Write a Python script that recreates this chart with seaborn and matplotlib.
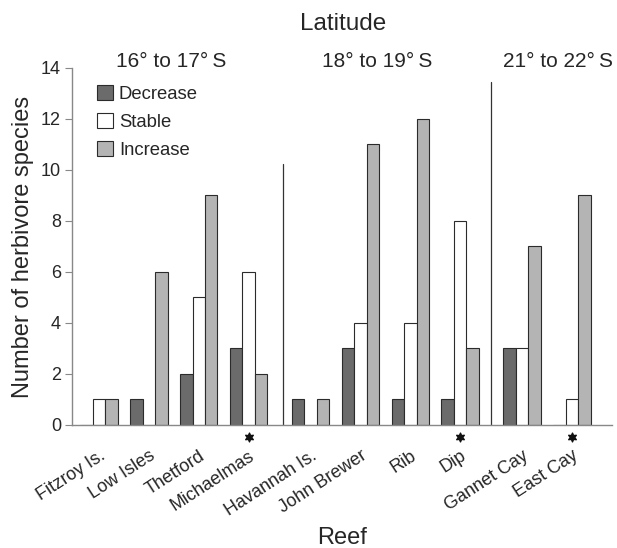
import pandas as pd
import seaborn as sns
import matplotlib.pyplot as plt

reefs = ["Fitzroy Is.", "Low Isles", "Thetford", "Michaelmas", "Havannah Is.",
         "John Brewer", "Rib", "Dip", "Gannet Cay", "East Cay"]
latitude_group = [0, 0, 0, 0, 1, 1, 1, 1, 2, 2]
group_labels = ["16° to 17°\u2009S", "18° to 19°\u2009S", "21° to 22°\u2009S"]
decrease = [0, 1, 2, 3, 1, 3, 1, 1, 3, 0]
stable = [1, 0, 5, 6, 0, 4, 4, 8, 3, 1]
increase = [1, 6, 9, 2, 1, 11, 12, 3, 7, 9]
starred = ["Michaelmas", "Dip", "East Cay"]

trends = ["Decrease", "Stable", "Increase"]
colors = {"Decrease": "#6b6b6b", "Stable": "#ffffff", "Increase": "#b4b4b4"}

sns.set_style("white")
plt.rcParams["font.family"] = ["Liberation Sans", "DejaVu Sans"]

# extra gap between latitude groups
gap = 0.24
pos = [i + gap * g for i, g in enumerate(latitude_group)]

rows = []
for i, r in enumerate(reefs):
    for t, vals in zip(trends, [decrease, stable, increase]):
        rows.append({"pos": pos[i], "reef": r, "trend": t, "count": vals[i]})
df = pd.DataFrame(rows)

fig = plt.figure(figsize=(6.17, 5.48), dpi=100)
ax = fig.add_axes([0.1167, 0.2245, 0.875, 0.6515])

sns.barplot(data=df, x="pos", y="count", hue="trend", hue_order=trends,
            native_scale=True, palette=colors, width=0.75,
            edgecolor="#2b2b2b", linewidth=0.8, ax=ax)

ax.set_xlim(-0.54, 10.28)
ax.set_ylim(0, 14)
ax.set_yticks(range(0, 15, 2))
ax.tick_params(axis="y", direction="out", length=5, width=0.8, color="#888888",
               labelsize=13, pad=3, left=True)
ax.set_xticks(pos)
ax.set_xticklabels(reefs, rotation=33, ha="right", rotation_mode="anchor", fontsize=13)
ax.tick_params(axis="x", length=0, pad=16)

for s in ["top", "right"]:
    ax.spines[s].set_visible(False)
for s in ["left", "bottom"]:
    ax.spines[s].set_color("#888888")
    ax.spines[s].set_linewidth(1.0)

ax.set_ylabel("Number of herbivore species", fontsize=17, labelpad=5)
ax.set_xlabel("Reef", fontsize=17, labelpad=6)

# separators between latitude groups
sep1 = (pos[3] + pos[4]) / 2 + 0.06
sep2 = (pos[7] + pos[8]) / 2
ax.plot([sep1, sep1], [0, 10.25], color="#333333", lw=0.9)
ax.plot([sep2, sep2], [0, 13.45], color="#333333", lw=0.9)

# latitude group headers
for xg, lab in zip([1.44, 5.57, 9.2], group_labels):
    ax.text(xg, 14.05, lab, ha="center", va="baseline", fontsize=15, clip_on=False)
fig.text(0.556, 1 - 30 / 548, "Latitude", ha="center", va="baseline", fontsize=17.5)

# asterisks
star_pos = [pos[reefs.index(r)] for r in starred]
ax.scatter(star_pos, [-0.48] * len(star_pos), marker=(6, 1, 0), s=40,
           color="#111111", clip_on=False, zorder=5)

handles, labels = ax.get_legend_handles_labels()
ax.legend(handles, labels, loc="upper left", bbox_to_anchor=(0.046, 0.953),
          frameon=False, fontsize=13.3, handlelength=0.87, handleheight=0.87,
          handletextpad=0.32, labelspacing=0.55, borderaxespad=0, borderpad=0)

plt.savefig("out.png", dpi=100)
